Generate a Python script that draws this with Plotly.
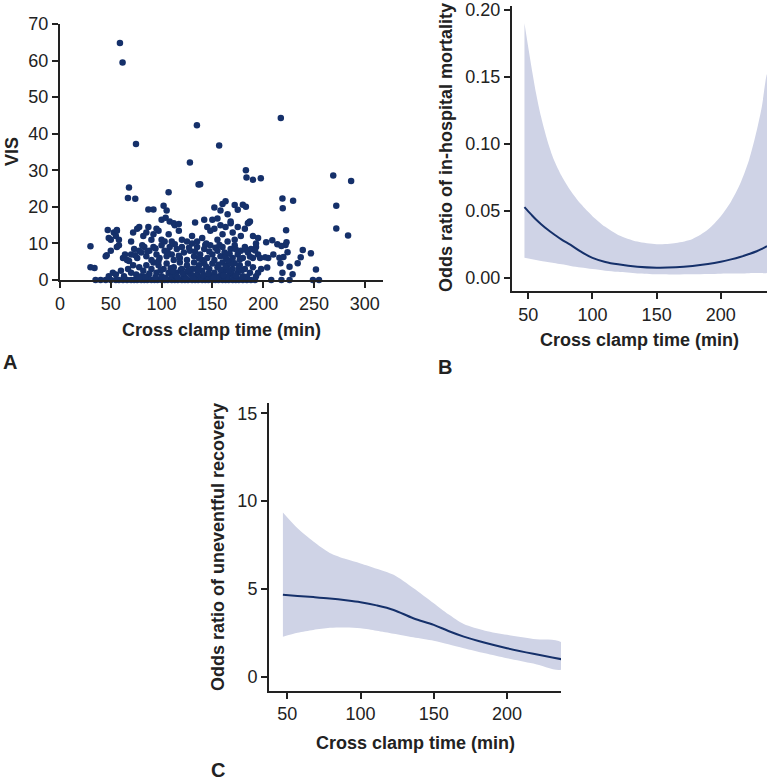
import plotly.graph_objects as go

# ---- panel A: VIS vs cross clamp time (scatter) ----
clamp_time_a = [
    # on the zero line
    35, 40, 45, 50, 55, 58, 62, 66, 70, 73, 76, 80, 83, 86, 90, 93, 96, 100, 103, 106,
    110, 113, 116, 120, 123, 126, 130, 133, 136, 140, 143, 146, 150, 153, 156, 160, 163, 166, 170, 173,
    176, 180, 184, 188, 192, 208, 218, 226, 249, 255,
    # low band
    30, 34, 48, 52, 55, 60, 63, 67, 70, 72, 75, 78, 80, 82, 85, 87, 90, 92, 95, 97,
    100, 102, 105, 107, 110, 112, 115, 118, 120, 122, 125, 127, 130, 132, 135, 137, 140, 142, 145, 147,
    150, 152, 155, 157, 160, 162, 165, 167, 170, 172, 175, 177, 180, 182, 185, 187, 190, 193, 195, 198,
    88, 94, 99, 104, 109, 114, 119, 124, 129, 134, 139, 144, 149, 154, 159, 164, 169, 174, 179, 184,
    116, 121, 131, 141, 151, 158, 161, 166, 171, 176, 78, 84, 111, 126, 136, 146, 156, 163, 168, 173,
    # middle band
    45, 46, 50, 56, 58, 62, 64, 66, 70, 73, 76, 78, 80, 83, 85, 88, 90, 92, 95, 98,
    100, 103, 105, 108, 110, 112, 115, 118, 120, 122, 125, 128, 130, 132, 135, 138, 140, 142, 145, 148,
    150, 152, 155, 158, 160, 162, 165, 168, 170, 172, 175, 178, 180, 182, 185, 188, 190, 193, 195, 205,
    68, 74, 81, 86, 94, 97, 106, 113, 117, 127, 133, 137, 143, 147, 153, 157, 163, 167, 173, 177,
    183, 187, 192, 197, 202, 204, 210, 214, 216, 220,
    218, 222, 224, 226, 219, 229, 234, 237, 239, 247, 252, 217, 223, 209, 203,
    # upper band
    48, 50, 53, 55, 56, 58, 70, 72, 76, 78, 82, 85, 87, 90, 92, 95, 97, 100, 103, 107,
    110, 113, 117, 120, 125, 130, 135, 140, 144, 148, 152, 155, 158, 160, 163, 165, 168, 170, 172, 175,
    178, 182, 185, 187, 190, 193, 195,
    87, 92, 100, 102, 105, 104, 108, 112, 117, 133, 142, 150, 152, 158, 160, 163, 165, 168, 172, 175,
    180, 183, 186, 145, 155,
    # outliers
    59, 61.6, 74.8, 134.8, 127.9, 156.7, 217.4, 67.9, 66.9, 74.1, 106.9, 136.4, 138, 183, 183.6, 190,
    197.7, 269, 286.6, 272, 272, 283.6, 219, 219.3, 229.5, 222.6, 30, 47, 56,
]
vis_a = [
    0, 0, 0, 0, 0, 0, 0, 0, 0, 0, 0, 0, 0, 0, 0, 0, 0, 0, 0, 0,
    0, 0, 0, 0, 0, 0, 0, 0, 0, 0, 0, 0, 0, 0, 0, 0, 0, 0, 0, 0,
    0, 0, 0, 0, 0, 0, 0, 0, 0, 0,
    3.5, 3.3, 1.0, 2.0, 1.5, 2.5, 1.0, 3.0, 2.0, 4.0, 1.5, 3.5, 1.0, 2.5, 4.0, 1.0, 3.0, 4.8, 2.0, 4.0,
    1.0, 3.0, 4.5, 2.0, 1.0, 3.5, 2.0, 4.8, 3.0, 1.0, 4.0, 2.0, 3.0, 4.8, 1.5, 4.0, 2.5, 4.6, 1.0, 3.0,
    4.5, 2.0, 3.5, 1.0, 4.8, 2.5, 4.0, 1.5, 3.0, 4.6, 2.0, 4.0, 1.0, 3.0, 4.5, 2.0, 3.5, 1.0, 2.0, 3.0,
    1.8, 0.8, 2.6, 0.6, 3.2, 1.2, 2.8, 0.5, 1.6, 3.0, 0.7, 3.6, 1.2, 0.5, 2.2, 0.8, 1.9, 0.6, 2.7, 0.9,
    0.6, 1.8, 0.5, 1.4, 0.6, 2.9, 1.3, 2.6, 0.7, 3.2, 0.6, 0.9, 2.4, 2.6, 2.8, 1.8, 4.2, 3.6, 4.6, 1.2,
    6.5, 6.8, 8.0, 9.0, 9.5, 6.0, 7.0, 5.5, 7.0, 8.5, 6.0, 8.0, 7.5, 9.0, 6.5, 8.0, 5.5, 9.0, 7.0, 6.0,
    9.5, 8.0, 6.5, 9.0, 7.0, 5.5, 8.5, 6.0, 9.0, 7.5, 5.5, 8.0, 10.0, 6.5, 9.0, 7.0, 5.5, 8.5, 6.0, 9.5,
    7.0, 5.5, 8.0, 6.5, 9.0, 7.5, 5.5, 8.5, 6.0, 9.5, 7.0, 8.0, 6.0, 9.0, 7.5, 8.5, 6.0, 9.0, 7.0, 6.0,
    5.2, 6.8, 9.5, 7.8, 8.6, 5.2, 7.6, 9.8, 6.6, 8.8, 7.8, 5.9, 9.6, 7.8, 8.8, 9.6, 6.2, 7.2, 8.4, 5.6,
    8.3, 6.4, 8.1, 6.0, 6.2, 3.4, 7.0, 9.8, 6.1, 6.3,
    9.3, 9.6, 7.6, 3.6, 2.0, 1.6, 4.6, 6.2, 8.2, 7.3, 2.9, 4.6, 10.3, 10.9, 10.3,
    11.5, 11.0, 13.0, 12.0, 13.5, 11.0, 10.5, 13.0, 14.0, 14.5, 12.0, 13.0, 14.5, 11.0, 12.5, 14.0, 13.5, 11.0, 10.5, 12.5,
    10.5, 15.0, 13.5, 11.0, 10.5, 12.0, 10.5, 11.5, 10.0, 13.5, 14.0, 11.0, 15.0, 12.5, 14.5, 10.5, 15.5, 13.0, 11.0, 14.5,
    12.0, 14.0, 15.5, 16.0, 12.0, 10.0, 11.5,
    19.3, 19.3, 16.5, 20.3, 19.0, 17.0, 16.0, 15.5, 15.3, 15.7, 16.5, 16.5, 19.8, 19.0, 20.8, 21.5, 18.0, 16.0, 20.5, 19.2,
    20.6, 20.0, 15.7, 14.5, 16.8,
    64.8, 59.5, 37.2, 42.3, 32.1, 36.8, 44.3, 25.3, 22.4, 22.2, 24.0, 26.1, 26.2, 30.0, 28.0, 27.4,
    27.8, 28.6, 27.1, 20.3, 14.1, 12.2, 22.3, 19.6, 21.7, 13.6, 9.2, 13.7, 13.7,
]

# ---- panel B: odds ratio of in-hospital mortality ----
clamp_time_b = [47, 52, 56, 60, 65, 70, 76, 83, 91, 100, 110, 120, 135, 150, 165, 178, 190, 200,
                208, 215, 222, 228, 232, 236]
mortality_or = [0.0527, 0.0475, 0.0435, 0.040, 0.036, 0.0325, 0.0285, 0.0245, 0.0195, 0.0148, 0.0118,
                0.0100, 0.0082, 0.0075, 0.0078, 0.0088, 0.0103, 0.0120, 0.0137, 0.0155, 0.0177,
                0.0198, 0.0215, 0.0237]
mortality_hi = [0.190, 0.160, 0.138, 0.120, 0.102, 0.088, 0.076, 0.065, 0.055, 0.046, 0.038,
                0.032, 0.027, 0.025, 0.026, 0.029, 0.036, 0.046, 0.057, 0.070, 0.088,
                0.110, 0.128, 0.152]
mortality_lo = [0.015, 0.0140, 0.0132, 0.0125, 0.0117, 0.0110, 0.0100, 0.0088, 0.0076, 0.0065, 0.0053,
                0.0044, 0.0032, 0.0026, 0.0025, 0.0026, 0.0028, 0.0030, 0.0031, 0.0032, 0.0034,
                0.0035, 0.0036, 0.0037]

# ---- panel C: odds ratio of uneventful recovery ----
clamp_time_c = [47, 57, 67.8, 79, 90, 100, 111, 122.6, 136, 150, 160, 170.5, 185, 200, 218, 237.4]
recovery_or = [4.66, 4.60, 4.53, 4.45, 4.35, 4.24, 4.06, 3.80, 3.33, 2.95, 2.60, 2.28, 1.93, 1.62, 1.30, 0.99]
recovery_hi = [9.35, 8.45, 7.70, 7.05, 6.70, 6.45, 6.15, 5.80, 5.05, 4.18, 3.55, 3.00, 2.62, 2.38, 2.15, 1.94]
recovery_lo = [2.28, 2.50, 2.66, 2.78, 2.80, 2.76, 2.62, 2.45, 2.25, 2.05, 1.85, 1.62, 1.33, 1.05, 0.75, 0.42]

W, H = 768, 782
NAVY = "#15306a"
BAND = "#cfd3e6"
INK = "#222222"
FONT = "Liberation Sans, Arial, sans-serif"


def px_x(p):
    return p / W


def px_y(p):
    return 1 - p / H


fig = go.Figure()

fig.add_trace(go.Scatter(x=clamp_time_a, y=vis_a, mode="markers", xaxis="x", yaxis="y",
                         marker=dict(color=NAVY, size=6.5, line=dict(width=0)), cliponaxis=False))

fig.add_trace(go.Scatter(x=clamp_time_b + clamp_time_b[::-1], y=mortality_hi + mortality_lo[::-1],
                         fill="toself", fillcolor=BAND, line=dict(width=0, shape="spline", smoothing=0.8),
                         mode="lines", xaxis="x2", yaxis="y2", hoverinfo="skip"))
fig.add_trace(go.Scatter(x=clamp_time_b, y=mortality_or, mode="lines", xaxis="x2", yaxis="y2",
                         line=dict(color=NAVY, width=2, shape="spline")))

fig.add_trace(go.Scatter(x=clamp_time_c + clamp_time_c[::-1], y=recovery_hi + recovery_lo[::-1],
                         fill="toself", fillcolor=BAND, line=dict(width=0, shape="spline", smoothing=0.8),
                         mode="lines", xaxis="x3", yaxis="y3", hoverinfo="skip"))
fig.add_trace(go.Scatter(x=clamp_time_c, y=recovery_or, mode="lines", xaxis="x3", yaxis="y3",
                         line=dict(color=NAVY, width=2, shape="spline")))

axis_style = dict(showline=True, linecolor=INK, linewidth=2, ticks="outside", ticklen=6, tickwidth=2,
                  tickcolor=INK, showgrid=False, zeroline=False, automargin=False,
                  tickfont=dict(family=FONT, size=18, color=INK))

fig.update_layout(
    width=W, height=H, margin=dict(l=0, r=0, t=0, b=0, autoexpand=False),
    paper_bgcolor="white", plot_bgcolor="rgba(0,0,0,0)", showlegend=False,
    xaxis=dict(axis_style, domain=[px_x(60), px_x(383)], range=[0, 318], anchor="y",
               tickvals=[0, 50, 100, 150, 200, 250, 300]),
    yaxis=dict(axis_style, domain=[px_y(280), px_y(24)], range=[0, 70], anchor="x",
               tickvals=[0, 10, 20, 30, 40, 50, 60, 70]),
    xaxis2=dict(axis_style, domain=[px_x(512), px_x(767)], range=[37.3, 236], anchor="y2",
                tickvals=[50, 100, 150, 200]),
    yaxis2=dict(axis_style, domain=[px_y(291), px_y(5.7)], range=[-0.0099, 0.2032], anchor="x2",
                tickvals=[0, 0.05, 0.10, 0.15, 0.20], tickformat=".2f"),
    xaxis3=dict(axis_style, domain=[px_x(269), px_x(561)], range=[37.5, 236.9], anchor="y3",
                tickvals=[50, 100, 150, 200]),
    yaxis3=dict(axis_style, domain=[px_y(690.7), px_y(403.3)], range=[-0.8, 15.57], anchor="x3",
                tickvals=[0, 5, 10, 15]),
)

title_font = dict(family=FONT, size=18, color=INK)
label_font = dict(family=FONT, size=20, color=INK)
notes = [
    # x titles
    ("<b>Cross clamp time (min)</b>", 221, 330, 0, title_font),
    ("<b>Cross clamp time (min)</b>", 639, 340, 0, title_font),
    ("<b>Cross clamp time (min)</b>", 415, 743, 0, title_font),
    # y titles
    ("<b>VIS</b>", 12, 152, -90, title_font),
    ("<b>Odds ratio of in-hospital mortality</b>", 446, 148, -90, title_font),
    ("<b>Odds ratio of uneventful recovery</b>", 218, 547, -90, title_font),
    # panel letters
    ("<b>A</b>", 10, 362, 0, label_font),
    ("<b>B</b>", 445, 367, 0, label_font),
    ("<b>C</b>", 218, 770, 0, label_font),
]
for text, x, y, angle, font in notes:
    fig.add_annotation(text=text, x=px_x(x), y=px_y(y), xref="paper", yref="paper",
                       showarrow=False, textangle=angle, font=font,
                       xanchor="center", yanchor="middle")

# page body has an 8px default margin, drop it so the figure fills the window
fig.write_html("out.html", config={"displayModeBar": False},
               post_script="document.body.style.margin='0';document.body.style.overflow='hidden';")
